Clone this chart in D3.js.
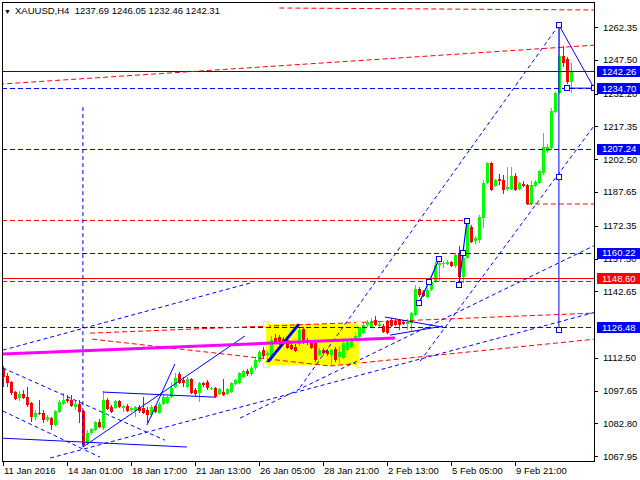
<!DOCTYPE html>
<html><head><meta charset="utf-8">
<script src="https://cdn.jsdelivr.net/npm/d3@7"></script>
<style>body{margin:0;background:#fff}svg{display:block}text{font-family:"Liberation Sans",Arial,sans-serif}</style>
</head><body><svg id="c" width="640" height="480"></svg>
<script>
// ---- data ----
const opens=[1107.4,1104.2,1101.5,1097.0,1094.3,1096.1,1094.7,1092.0,1085.7,1087.5,
1087.5,1084.3,1085.2,1082.1,1088.0,1091.6,1093.8,1093.4,1090.2,1091.6,
1088.4,1073.9,1078.4,1079.8,1083.4,1080.7,1093.4,1090.2,1089.8,1092.9,
1089.8,1090.7,1088.9,1088.4,1090.2,1089.8,1088.9,1086.6,1090.7,1087.5,
1091.6,1092.0,1094.7,1099.2,1105.1,1102.4,1099.2,1102.9,1097.9,1096.5,
1101.0,1101.5,1098.3,1098.8,1096.1,1097.0,1096.1,1097.0,1100.6,1101.0,
1103.8,1106.5,1105.1,1107.8,1111.0,1116.0,1113.7,1111.9,1121.5,1121.9,
1121.0,1120.6,1118.3,1117.4,1118.8,1125.6,1120.6,1119.7,1119.2,1113.7,
1116.0,1115.5,1113.7,1116.5,1112.8,1112.4,1116.0,1117.4,1120.6,1121.9,
1123.7,1127.4,1126.5,1129.7,1126.9,1126.9,1129.2,1129.7,1129.2,1129.7,
1128.8,1127.8,1128.3,1131.9,1143.6,1142.3,1140.0,1143.2,1146.8,1154.5,
1154.9,1154.9,1155.8,1154.1,1159.9,1149.1,1157.7,1171.8,1165.4,1165.9,
1175.8,1191.7,1200.8,1190.3,1193.5,1193.0,1189.0,1189.0,1194.9,1189.0,
1191.2,1190.8,1182.2,1190.3,1191.7,1196.2,1206.2,1207.5,1223.9,1232.5,
1249.2,1247.8,1237.69];
const highs=[1108.8,1105.6,1102.0,1097.4,1097.4,1097.9,1099.2,1092.5,1088.9,1093.4,
1088.9,1086.6,1085.7,1088.9,1093.4,1096.5,1095.6,1095.6,1093.4,1093.4,
1088.9,1079.8,1080.7,1083.9,1084.8,1097.4,1094.3,1091.1,1093.4,1093.4,
1091.1,1091.6,1090.2,1090.7,1091.1,1094.7,1090.2,1091.1,1091.1,1092.5,
1095.6,1095.2,1101.5,1105.6,1106.0,1103.8,1103.8,1103.3,1098.8,1101.5,
1101.5,1102.4,1099.2,1099.2,1098.8,1102.9,1098.8,1101.5,1102.9,1106.0,
1106.9,1107.4,1108.8,1112.4,1116.0,1117.4,1115.5,1122.4,1123.3,1122.8,
1121.9,1121.5,1119.7,1118.8,1126.0,1126.5,1121.5,1120.6,1120.1,1116.9,
1116.9,1116.5,1116.5,1117.4,1117.9,1120.1,1120.6,1121.5,1123.3,1127.4,
1128.3,1129.7,1130.6,1131.5,1129.2,1127.8,1129.7,1130.6,1130.1,1130.1,
1129.7,1130.1,1133.3,1145.4,1144.5,1143.2,1144.1,1147.7,1155.8,1156.3,
1156.3,1156.7,1156.3,1159.9,1163.2,1158.6,1174.5,1172.7,1167.7,1177.2,
1193.0,1201.2,1201.2,1193.5,1195.8,1195.3,1199.0,1199.0,1196.2,1192.2,
1192.6,1191.2,1192.6,1193.0,1197.6,1214.3,1209.4,1225.7,1232.9,1262.5,
1253.7,1248.8,1246.05];
const lows=[1099.2,1099.2,1095.6,1093.4,1092.9,1093.8,1090.2,1083.4,1084.3,1086.6,
1083.0,1083.4,1079.8,1081.6,1087.5,1091.1,1092.0,1090.2,1088.9,1083.0,
1072.6,1073.0,1077.5,1079.3,1080.7,1079.8,1088.9,1087.5,1089.3,1089.8,
1088.0,1088.0,1088.0,1085.7,1087.5,1087.1,1083.0,1085.7,1087.5,1087.1,
1091.1,1091.6,1094.3,1098.8,1100.6,1099.2,1098.8,1096.1,1095.2,1092.5,
1099.2,1097.9,1097.9,1094.3,1095.6,1095.2,1095.6,1096.5,1100.1,1100.6,
1103.3,1104.2,1104.2,1106.9,1110.1,1112.4,1112.8,1111.0,1119.2,1118.3,
1118.8,1116.5,1116.0,1115.1,1117.9,1118.8,1118.3,1116.5,1110.6,1113.3,
1113.7,1113.3,1108.8,1110.6,1109.7,1111.9,1115.5,1116.9,1120.1,1121.5,
1123.3,1126.5,1126.0,1126.9,1126.5,1123.7,1123.3,1126.5,1126.9,1125.1,
1127.4,1125.1,1124.2,1131.5,1140.0,1140.0,1139.6,1142.7,1146.4,1147.3,
1153.2,1154.5,1153.6,1153.2,1146.4,1146.4,1157.2,1164.5,1164.0,1164.5,
1171.3,1191.2,1188.1,1189.9,1190.8,1186.7,1188.1,1188.5,1188.1,1188.5,
1189.9,1181.7,1181.7,1189.9,1191.2,1195.3,1205.3,1206.6,1223.4,1232.0,
1244.2,1236.5,1232.46];
const closes=[1103.8,1101.0,1096.5,1093.8,1096.1,1094.3,1091.1,1085.7,1087.5,1087.1,
1084.3,1085.7,1082.1,1088.4,1092.5,1093.4,1092.9,1090.7,1091.6,1088.0,
1073.0,1078.4,1080.2,1083.4,1081.2,1093.4,1089.3,1088.0,1092.9,1090.2,
1090.7,1088.4,1089.8,1090.2,1088.4,1087.5,1086.6,1090.2,1088.0,1091.6,
1094.7,1094.7,1098.8,1103.3,1101.0,1101.0,1102.9,1096.5,1096.1,1101.0,
1100.1,1098.8,1098.8,1094.7,1098.3,1095.6,1098.3,1101.0,1102.4,1105.6,
1106.5,1105.1,1107.8,1111.5,1115.1,1113.3,1114.6,1120.6,1119.7,1119.2,
1119.7,1116.9,1116.5,1115.5,1125.1,1119.7,1119.2,1116.9,1111.5,1116.0,
1114.6,1114.2,1116.0,1111.5,1115.1,1119.2,1119.7,1121.0,1122.4,1126.5,
1127.4,1128.8,1128.8,1127.4,1127.8,1124.2,1123.7,1126.9,1127.4,1127.4,
1127.8,1128.8,1132.8,1143.6,1140.9,1140.5,1143.2,1146.8,1154.5,1155.4,
1155.4,1155.8,1154.1,1159.0,1149.1,1157.7,1173.6,1164.9,1166.8,1176.3,
1191.7,1200.8,1188.5,1193.0,1192.6,1188.5,1189.9,1194.9,1188.5,1191.7,
1190.3,1182.2,1190.8,1192.2,1197.1,1208.0,1208.0,1224.3,1232.5,1249.2,
1246.0,1237.4,1242.31];

const dateLabels=["11 Jan 2016","14 Jan 01:00","18 Jan 17:00","21 Jan 13:00","26 Jan 05:00","28 Jan 21:00","2 Feb 13:00","5 Feb 05:00","9 Feb 21:00"];
const dateBars=[0,16,32,48,64,80,96,112,128];
const priceTicks=["1262.35","1247.50","1232.20","1217.35","1202.50","1187.65","1172.35","1157.50","1142.65","1112.50","1097.65","1082.80","1067.95"];
const blueLevels=["1242.26","1234.70","1207.24","1160.22","1126.48"];
const redLevels=["1148.60"];
const blueDashedLevels=[1234.70,1207.24,1160.22,1126.48];
const blueSolidLevels=[1242.26];
const redSolidLevels=[1148.60];
const redDashedLevels=[1174.9,1147.3];
// trendlines: [bar1, price1, bar2, price2]
const redDashedLines=[[130.9,1182.2,148,1182.2],[-1,1236.5,148,1254.2],[69,1271.0,148,1270.1],
[22.2,1121.0,81.7,1108.8],[81.7,1108.8,148,1121.0],[21.7,1123.7,148,1132.8]];
const blueDashedLines=[[-0.1,1107.9,40.4,1075.2],[-0.1,1088.4,24.2,1067.5],[11.7,1067.1,148,1133.2],[-0.1,1116.0,61.7,1146.4],
[74.2,1099.2,138.9,1263.3],[104.2,1111.0,148,1218.4],[59.2,1085.2,148,1163.6],[19.9,1226.1,19.9,1072.1]];
const blueSolidLines=[[19.9,1072.1,60.4,1122.4],[-0.1,1076.1,45.9,1072.1],[24.9,1097.0,52.9,1094.7],[35.9,1082.0,42.9,1109.7],
[95.4,1131.0,109.9,1126.4],[96.7,1122.8,109.9,1126.9],[138.9,1263.3,138.9,1125.1],[138.9,1263.3,147.7,1234.7],[140.9,1234.7,147.7,1234.7]];
const thickBlueLines=[[65.9,1110.1,73.9,1127.8]];
const waveA=[[103.9,1137.3],[106.4,1146.8],[108.9,1157.2]];
const waveB=[[113.9,1145.5],[114.9,1159.9],[115.9,1174.5]];
const squares=[[103.9,1137.3],[106.4,1146.8],[108.9,1157.2],[113.9,1145.5],[114.9,1159.9],[115.9,1174.5],[138.9,1263.3],[138.9,1194.4],[138.9,1125.1],[140.9,1234.7],[147.7,1234.7]];
const magentaLine=[-0.1,1114.2,97.9,1121.5];
const yellowBox=[65.7,1127.8,88.9,1109.2];
const shortRedLevelEnd=116.2;

// ---- scales ----
const svg=d3.select('#c');
const L=2,R=594,T=2,B=461;
const x=d3.scaleLinear().domain([0,142]).range([3.3,571.3]);
const y=d3.scaleLinear().domain([1067.95,1262.35]).range([456.2,27.1]);
const BLUE='#0000ff',RED='#ff0000',GREEN='#00ff00';

svg.append('rect').attr('width',640).attr('height',480).attr('fill','#fff');
svg.append('defs').append('clipPath').attr('id','clip').append('rect').attr('x',L).attr('y',T).attr('width',R-L).attr('height',B-T);
const g=svg.append('g').attr('clip-path','url(#clip)');

// yellow rectangle
g.append('rect').attr('x',x(yellowBox[0])).attr('y',y(yellowBox[1])).attr('width',x(yellowBox[2])-x(yellowBox[0])).attr('height',y(yellowBox[3])-y(yellowBox[1])).attr('fill','#ffff00');

// candles
const bars=d3.range(opens.length).map(i=>({i,o:opens[i],h:highs[i],l:lows[i],c:closes[i]}));
const cg=g.append('g').attr('shape-rendering','crispEdges');
cg.selectAll('line').data(bars).join('line')
 .attr('x1',d=>Math.round(x(d.i))+0.5).attr('x2',d=>Math.round(x(d.i))+0.5)
 .attr('y1',d=>y(d.h)).attr('y2',d=>y(d.l))
 .attr('stroke',d=>d.c>=d.o?GREEN:RED).attr('stroke-width',1);
cg.selectAll('rect').data(bars).join('rect')
 .attr('x',d=>Math.round(x(d.i))-1).attr('width',3)
 .attr('y',d=>Math.round(y(Math.max(d.o,d.c))))
 .attr('height',d=>Math.max(1,Math.round(y(Math.min(d.o,d.c)))-Math.round(y(Math.max(d.o,d.c)))))
 .attr('fill',d=>d.c>=d.o?GREEN:RED);

// horizontal levels
const hl=(vals,color,dash,w,x2)=>g.append('g').attr('shape-rendering','crispEdges').selectAll('line').data(vals).join('line')
 .attr('x1',L).attr('x2',x2).attr('y1',d=>Math.round(y(d))+0.5).attr('y2',d=>Math.round(y(d))+0.5)
 .attr('stroke',color).attr('stroke-width',w).attr('stroke-dasharray',dash);
hl([redDashedLevels[1]],RED,'5,3',1,R);
hl([redDashedLevels[0]],RED,'5,3',1,x(shortRedLevelEnd));
hl(blueDashedLevels,BLUE,'5,3',1,R);
hl(blueSolidLevels,BLUE,null,1,R);
hl(redSolidLevels,RED,null,1,R);

const seg=(arr,color,dash,w)=>g.append('g').selectAll('line').data(arr).join('line')
 .attr('x1',d=>x(d[0])).attr('y1',d=>y(d[1])).attr('x2',d=>x(d[2])).attr('y2',d=>y(d[3]))
 .attr('stroke',color).attr('stroke-width',w).attr('stroke-dasharray',dash);
seg(redDashedLines,RED,'5,3',1);
seg(blueDashedLines,BLUE,'4,3',1);
seg(blueSolidLines,BLUE,null,1);
seg(thickBlueLines,BLUE,null,3);
const lineGen=d3.line().x(d=>x(d[0])).y(d=>y(d[1]));
[waveA,waveB].forEach(w=>g.append('path').attr('d',lineGen(w)).attr('fill','none').attr('stroke',BLUE).attr('stroke-width',1.2));
g.append('line').attr('x1',x(magentaLine[0])).attr('y1',y(magentaLine[1])).attr('x2',x(magentaLine[2])).attr('y2',y(magentaLine[3])).attr('stroke','#ff00ff').attr('stroke-width',3);

// corner squares of the yellow box
const yc=[[yellowBox[0],yellowBox[1]],[yellowBox[2],yellowBox[1]],[yellowBox[0],yellowBox[3]],[yellowBox[2],yellowBox[3]]];
g.append('g').selectAll('rect').data(yc).join('rect').attr('x',d=>x(d[0])-2.5).attr('y',d=>y(d[1])-2.5).attr('width',5).attr('height',5).attr('fill','#fff').attr('stroke','#ffff00');
g.append('g').selectAll('rect').data(squares).join('rect').attr('x',d=>Math.round(x(d[0]))-2.5).attr('y',d=>Math.round(y(d[1]))-2.5).attr('width',5).attr('height',5).attr('fill','#fff').attr('stroke',BLUE);

// frame
svg.append('rect').attr('x',L+0.5).attr('y',T+0.5).attr('width',R-L).attr('height',B-T).attr('fill','none').attr('stroke','#000').attr('shape-rendering','crispEdges');

// right axis
const ax=svg.append('g').attr('font-size','9.5px');
ax.selectAll('line').data(priceTicks).join('line').attr('x1',R).attr('x2',R+4).attr('y1',d=>Math.round(y(+d))+0.5).attr('y2',d=>Math.round(y(+d))+0.5).attr('stroke','#000').attr('shape-rendering','crispEdges');
ax.selectAll('text').data(priceTicks).join('text').attr('x',R+9).attr('y',d=>y(+d)+3.5).text(d=>d).attr('fill','#000');
const boxes=blueLevels.map(v=>({v,c:BLUE})).concat(redLevels.map(v=>({v,c:RED})));
const bx=svg.append('g').attr('font-size','9.5px');
bx.selectAll('rect').data(boxes).join('rect').attr('x',R+3).attr('y',d=>Math.round(y(+d.v))-5).attr('width',43).attr('height',11).attr('fill',d=>d.c);
bx.selectAll('text').data(boxes).join('text').attr('x',R+8).attr('y',d=>y(+d.v)+3.5).attr('fill','#fff').text(d=>d.v);

// bottom axis
const bt=svg.append('g').attr('font-size','9.5px');
bt.selectAll('line').data(dateBars).join('line').attr('x1',d=>Math.round(x(d))+0.5).attr('x2',d=>Math.round(x(d))+0.5).attr('y1',B).attr('y2',B+5).attr('stroke','#000');
bt.selectAll('text').data(dateLabels).join('text').attr('x',(d,i)=>Math.round(x(dateBars[i]))+1).attr('y',474).text(d=>d);

// title
svg.append('text').attr('x',4).attr('y',14).attr('font-size','7px').text('▼');
svg.append('text').attr('x',15).attr('y',14).attr('font-size','9.5px').attr('xml:space','preserve').text('XAUUSD,H4  1237.69 1246.05 1232.46 1242.31');
</script></body></html>
